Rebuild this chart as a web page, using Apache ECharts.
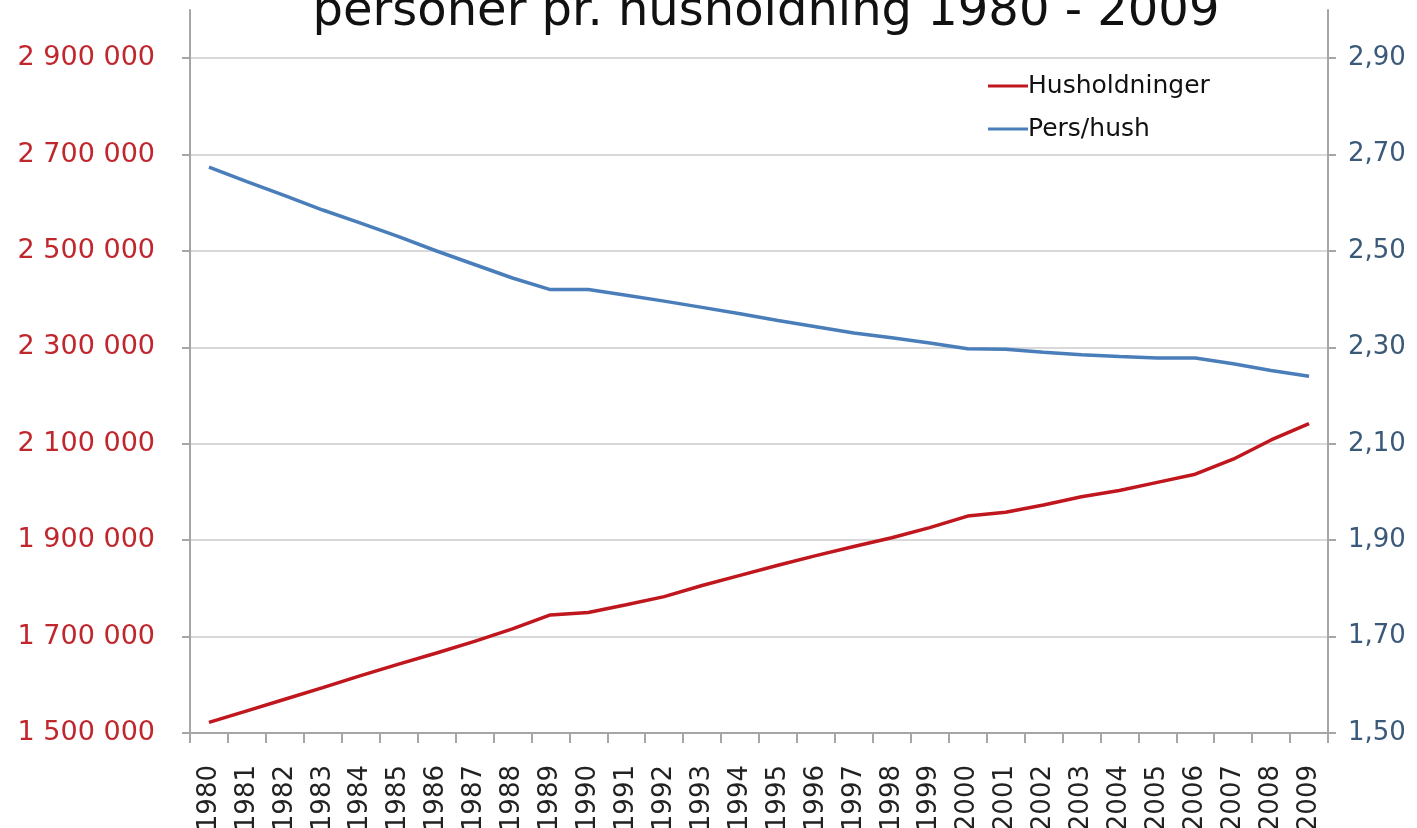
<!DOCTYPE html>
<html>
<head>
<meta charset="utf-8">
<script src="https://cdn.jsdelivr.net/npm/echarts@6/dist/echarts.min.js"></script>
<style>
html,body{margin:0;padding:0;background:#fff;}
#chart{width:1417px;height:828px;}
</style>
</head>
<body>
<div id="chart"></div>
<script>
const titleText = 'personer pr. husholdning 1980 - 2009';
const years = ['1980','1981','1982','1983','1984','1985','1986','1987','1988','1989',
  '1990','1991','1992','1993','1994','1995','1996','1997','1998','1999',
  '2000','2001','2002','2003','2004','2005','2006','2007','2008','2009'];
const husholdninger = [1522000,1546000,1570000,1594000,1619000,1643000,1666000,1690000,1716000,1745000,
  1750000,1766000,1783000,1806000,1827000,1848000,1868000,1887000,1905000,1926000,
  1950000,1958000,1973000,1990000,2003000,2020000,2037000,2068000,2108000,2142000];
const persHush = [2.674,2.644,2.615,2.585,2.558,2.530,2.500,2.472,2.444,2.420,
  2.420,2.408,2.396,2.383,2.370,2.356,2.343,2.330,2.320,2.309,
  2.297,2.296,2.290,2.285,2.281,2.278,2.278,2.266,2.252,2.240];
const leftTicks = [1500000,1700000,1900000,2100000,2300000,2500000,2700000,2900000];
const rightTicks = [1.5,1.7,1.9,2.1,2.3,2.5,2.7,2.9];
const seriesNames = ['Husholdninger','Pers/hush'];

const chart = echarts.init(document.getElementById('chart'), null, {renderer:'canvas'});
const fmtLeft = v => String(Math.round(v)).replace(/\B(?=(\d{3})+(?!\d))/g, ' ');
const fmtRight = v => v.toFixed(2).replace('.', ',');
const font = 'DejaVu Sans, Verdana, sans-serif';

chart.setOption({
  animation: false,
  backgroundColor: '#ffffff',
  title: {
    text: titleText,
    left: 761, top: -16, textAlign: 'center',
    textStyle: {fontFamily: font, fontSize: 48, fontWeight: 'normal', color: '#111', lineHeight: 48}
  },
  legend: {
    orient: 'vertical', left: 983, top: 67,
    icon: 'rect', itemWidth: 40, itemHeight: 3, itemGap: 15,
    data: seriesNames,
    textStyle: {fontFamily: font, fontSize: 25, color: '#111', lineHeight: 28, padding: [0,0,0,-5]}
  },
  grid: {left: 190, right: 89, top: 10, bottom: 95, containLabel: false, outerBoundsMode: 'none'},
  xAxis: {
    type: 'category', data: years, boundaryGap: true,
    axisLine: {lineStyle: {color: '#a6a6a6', width: 2}},
    axisTick: {show: true, length: 10, lineStyle: {color: '#a6a6a6', width: 2}},
    axisLabel: {rotate: 90, margin: 32, interval: 0, fontFamily: font, fontSize: 26, color: '#222'},
    splitLine: {show: false}
  },
  yAxis: [{
    type: 'value', min: 1500000, max: 3000000, interval: 200000, position: 'left',
    axisLine: {show: true, lineStyle: {color: '#a6a6a6', width: 2}},
    axisTick: {show: true, length: 8, customValues: leftTicks, lineStyle: {color: '#a6a6a6', width: 2}},
    axisLabel: {margin: 35, customValues: leftTicks, formatter: fmtLeft, fontFamily: font, fontSize: 27, color: '#c0272d'},
    splitLine: {show: true, lineStyle: {color: '#d9d9d9', width: 2}}
  }, {
    type: 'value', min: 1.5, max: 3.0, interval: 0.2, position: 'right',
    axisLine: {show: true, lineStyle: {color: '#a6a6a6', width: 2}},
    axisTick: {show: true, length: 8, customValues: rightTicks, lineStyle: {color: '#a6a6a6', width: 2}},
    axisLabel: {margin: 20, customValues: rightTicks, formatter: fmtRight, fontFamily: font, fontSize: 26, color: '#3b5a7a'},
    splitLine: {show: false}
  }],
  series: [{
    name: seriesNames[0], type: 'line', yAxisIndex: 0, data: husholdninger,
    symbol: 'none', showSymbol: false, smooth: false,
    lineStyle: {color: '#c0161e', width: 3.5}, itemStyle: {color: '#c0161e'}
  }, {
    name: seriesNames[1], type: 'line', yAxisIndex: 1, data: persHush,
    symbol: 'none', showSymbol: false, smooth: false,
    lineStyle: {color: '#4a7ebb', width: 3.5}, itemStyle: {color: '#4a7ebb'}
  }]
});
</script>
</body>
</html>
